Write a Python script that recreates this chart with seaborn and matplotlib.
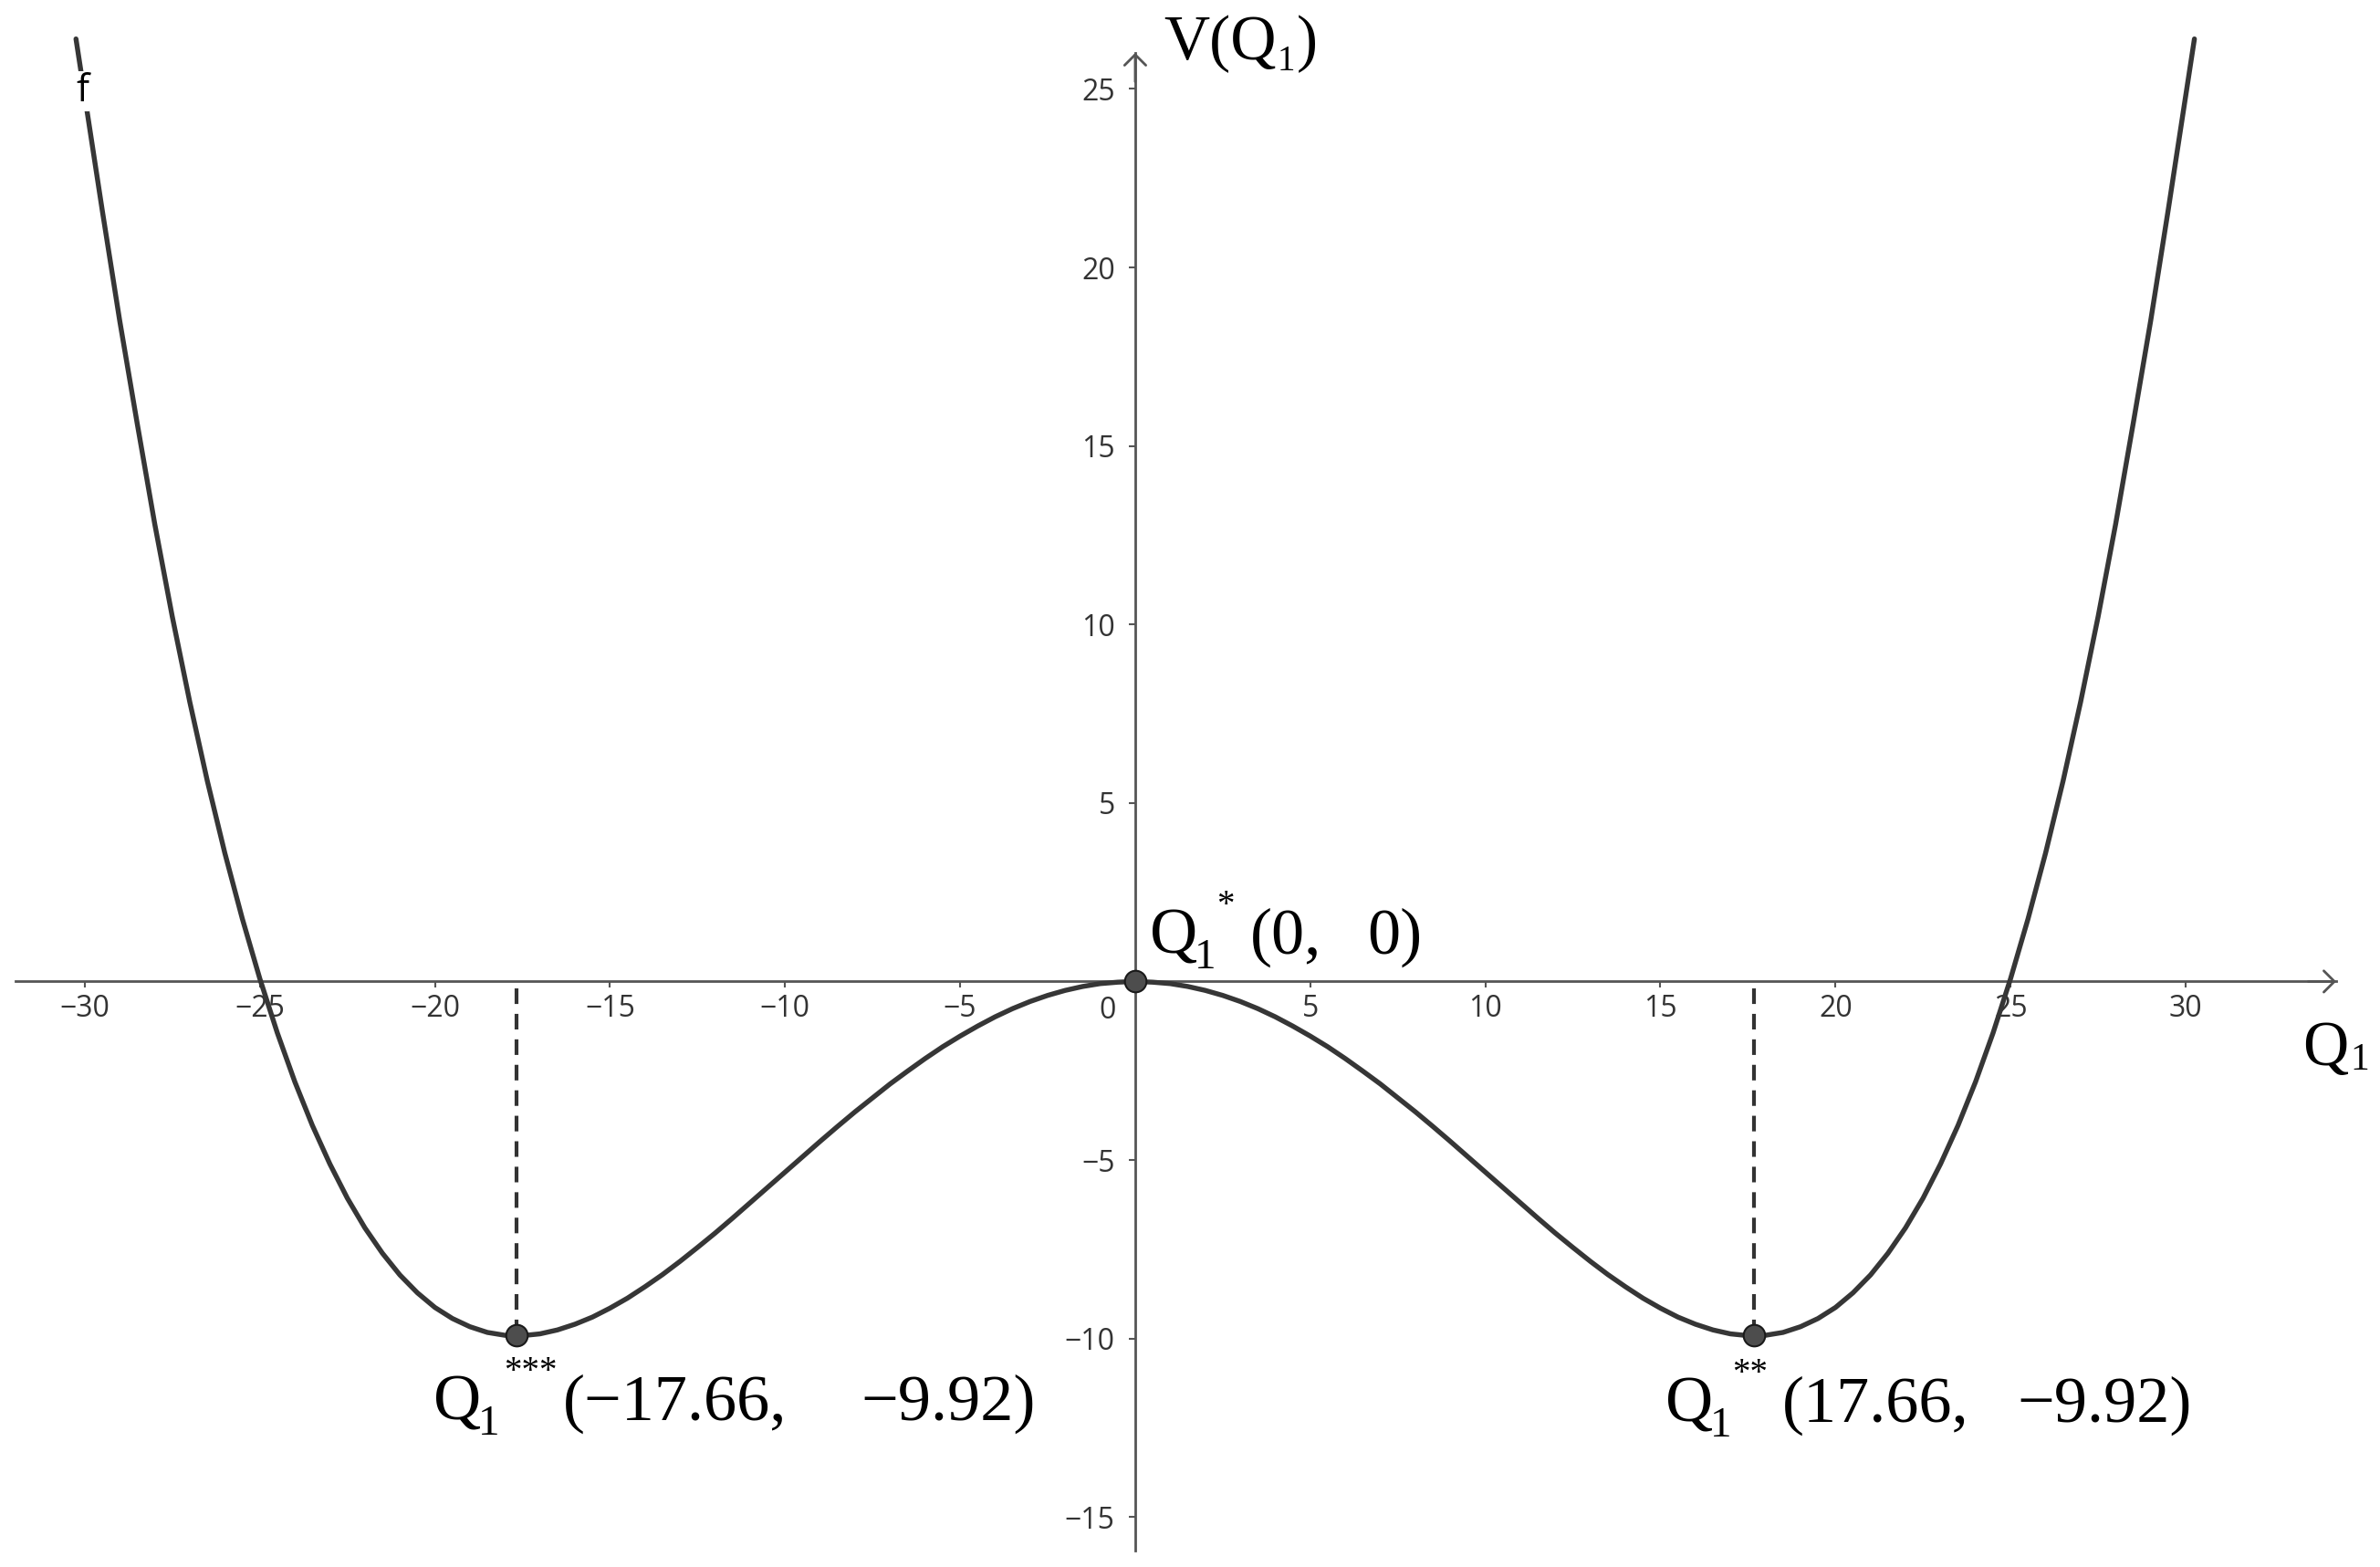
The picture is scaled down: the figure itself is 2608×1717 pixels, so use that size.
import matplotlib
matplotlib.use('Agg')
import matplotlib.pyplot as plt
import seaborn as sns

# V(Q1), one sample per half unit of Q1
q_vals = [-30.25, -30.0,
          -29.5, -29.0, -28.5, -28.0, -27.5, -27.0, -26.5, -26.0, -25.5, -25.0,
          -24.5, -24.0, -23.5, -23.0, -22.5, -22.0, -21.5, -21.0, -20.5, -20.0,
          -19.5, -19.0, -18.5, -18.0, -17.5, -17.0, -16.5, -16.0, -15.5, -15.0,
          -14.5, -14.0, -13.5, -13.0, -12.5, -12.0, -11.5, -11.0, -10.5, -10.0,
          -9.5, -9.0, -8.5, -8.0, -7.5, -7.0, -6.5, -6.0, -5.5, -5.0,
          -4.5, -4.0, -3.5, -3.0, -2.5, -2.0, -1.5, -1.0, -0.5, 0.0,
          0.5, 1.0, 1.5, 2.0, 2.5, 3.0, 3.5, 4.0, 4.5, 5.0,
          5.5, 6.0, 6.5, 7.0, 7.5, 8.0, 8.5, 9.0, 9.5, 10.0,
          10.5, 11.0, 11.5, 12.0, 12.5, 13.0, 13.5, 14.0, 14.5, 15.0,
          15.5, 16.0, 16.5, 17.0, 17.5, 18.0, 18.5, 19.0, 19.5, 20.0,
          20.5, 21.0, 21.5, 22.0, 22.5, 23.0, 23.5, 24.0, 24.5, 25.0,
          25.5, 26.0, 26.5, 27.0, 27.5, 28.0, 28.5, 29.0, 29.5, 30.0,
          30.25]
v_vals = [26.4, 24.8,
          21.6, 18.5, 15.62, 12.81, 10.22, 7.83, 5.62, 3.60, 1.76, 0.08,
          -1.44, -2.81, -4.03, -5.11, -6.07, -6.90, -7.61, -8.22, -8.72, -9.13,
          -9.44, -9.67, -9.83, -9.91, -9.92, -9.87, -9.76, -9.60, -9.40, -9.15,
          -8.87, -8.55, -8.21, -7.84, -7.45, -7.05, -6.63, -6.20, -5.77, -5.34,
          -4.91, -4.48, -4.06, -3.65, -3.26, -2.87, -2.51, -2.16, -1.83, -1.53,
          -1.25, -0.99, -0.76, -0.56, -0.39, -0.25, -0.14, -0.06, -0.02, 0.00,
          -0.02, -0.06, -0.14, -0.25, -0.39, -0.56, -0.76, -0.99, -1.25, -1.53,
          -1.83, -2.16, -2.51, -2.87, -3.26, -3.65, -4.06, -4.48, -4.91, -5.34,
          -5.77, -6.20, -6.63, -7.05, -7.45, -7.84, -8.21, -8.55, -8.87, -9.15,
          -9.40, -9.60, -9.76, -9.87, -9.92, -9.91, -9.83, -9.67, -9.44, -9.13,
          -8.72, -8.22, -7.61, -6.90, -6.07, -5.11, -4.03, -2.81, -1.44, 0.08,
          1.76, 3.60, 5.62, 7.83, 10.22, 12.81, 15.62, 18.5, 21.6, 24.8,
          26.4]

# stationary points and their labels
point_q = [-17.66, 0, 17.66]
point_v = [-9.92, 0, -9.92]
point_stars = ['***', '*', '**']
point_left = ['(\u221217.66,', '(0,', '(17.66,']
point_right = ['\u22129.92)', '0)', '\u22129.92)']

x_ticks = [-30, -25, -20, -15, -10, -5, 5, 10, 15, 20, 25, 30]
y_ticks = [-15, -10, -5, 5, 10, 15, 20, 25]

sns.set_theme(style='white')
plt.rcParams['font.family'] = ['Open Sans', 'DejaVu Sans']

AXIS_COLOR = '#555555'
CURVE_COLOR = '#363636'
SERIF = 'Liberation Serif'

fig = plt.figure(figsize=(26.08, 17.17), dpi=100)
ax = fig.add_axes([0, 0, 1, 1])
ax.set_xlim(-32.42, 35.55)
ax.set_ylim(-16.40, 27.49)

# axes through the origin, GeoGebra style
for side in ['top', 'right']:
    ax.spines[side].set_visible(False)
ax.spines['bottom'].set_position(('data', 0))
ax.spines['left'].set_position(('data', 0))
ax.spines['bottom'].set_bounds(-31.97, 34.30)
ax.spines['left'].set_bounds(-15.94, 26.01)
for side in ['bottom', 'left']:
    ax.spines[side].set_color(AXIS_COLOR)
    ax.spines[side].set_linewidth(2)

arrow = dict(arrowstyle='->,head_length=0.6,head_width=0.6', lw=2, color=AXIS_COLOR,
             shrinkA=0, shrinkB=0, mutation_scale=14)
ax.annotate('', xy=(34.30, 0), xytext=(33.5, 0), arrowprops=arrow)
ax.annotate('', xy=(0, 26.01), xytext=(0, 25.2), arrowprops=arrow)

ax.set_xticks(x_ticks)
ax.set_yticks(y_ticks)
ax.tick_params(bottom=True, left=True, direction='out', length=5, width=1.5,
               color=AXIS_COLOR, labelsize=23, labelcolor='#333333')
ax.tick_params(axis='x', pad=5)
ax.tick_params(axis='y', pad=11)
ax.text(-0.80, -0.81, '0', fontsize=23, color='#333333', ha='center', va='center')

# the curve
sns.lineplot(x=q_vals, y=v_vals, ax=ax, color=CURVE_COLOR, linewidth=3.9, zorder=3)
ax.text(-30.07, 24.94, 'f', fontsize=30, color='black', ha='center', va='center', zorder=4,
        bbox=dict(facecolor='white', edgecolor='none', pad=1))

# drop lines from the two minima
min_q = [q for q, v in zip(point_q, point_v) if v < 0]
min_v = [v for v in point_v if v < 0]
ax.vlines(min_q, min_v, 0, colors='#333333', linewidth=3, linestyles=(0, (4.1, 2.6)), zorder=2)

sns.scatterplot(x=point_q, y=point_v, ax=ax, s=289, color='#4d4d4d',
                edgecolor='#1a1a1a', linewidth=1.5, zorder=5)


def point_label(xy, stars, left, right, star_dx, left_dx, right_dx):
    kw = dict(xycoords='data', textcoords='offset pixels', family=SERIF,
              color='black', ha='left', va='baseline')
    ax.annotate('Q', xy=xy, xytext=(0, 0), fontsize=52, **kw)
    ax.annotate('1', xy=xy, xytext=(49, -16), fontsize=34, **kw)
    ax.annotate(stars, xy=xy, xytext=(star_dx, 43), fontsize=28, **kw)
    ax.annotate(left, xy=xy, xytext=(left_dx, 0), fontsize=52, **kw)
    ax.annotate(right, xy=xy, xytext=(right_dx, 0), fontsize=52, **kw)


label_anchor = [(-20.04, -12.28), (0.42, 0.78), (15.15, -12.33)]
star_dx = [77, 73, 73]
left_dx = [142, 110, 128]
right_dx = [468, 238, 385]
for i in range(len(point_q)):
    point_label(label_anchor[i], point_stars[i], point_left[i], point_right[i],
                star_dx[i], left_dx[i], right_dx[i])

# axis titles
kw = dict(textcoords='offset pixels', family=SERIF, color='black', ha='left', va='baseline')
ax.annotate('V(Q', xy=(0.81, 25.83), xytext=(0, 0), fontsize=50, **kw)
ax.annotate('1', xy=(0.81, 25.83), xytext=(125, -12), fontsize=28, **kw)
ax.annotate(')', xy=(0.81, 25.83), xytext=(146, 0), fontsize=50, **kw)
ax.annotate('Q', xy=(33.34, -2.34), xytext=(0, 0), fontsize=50, **kw)
ax.annotate('1', xy=(33.34, -2.34), xytext=(52, -5), fontsize=30, **kw)

fig.savefig('out.png', dpi=100)
